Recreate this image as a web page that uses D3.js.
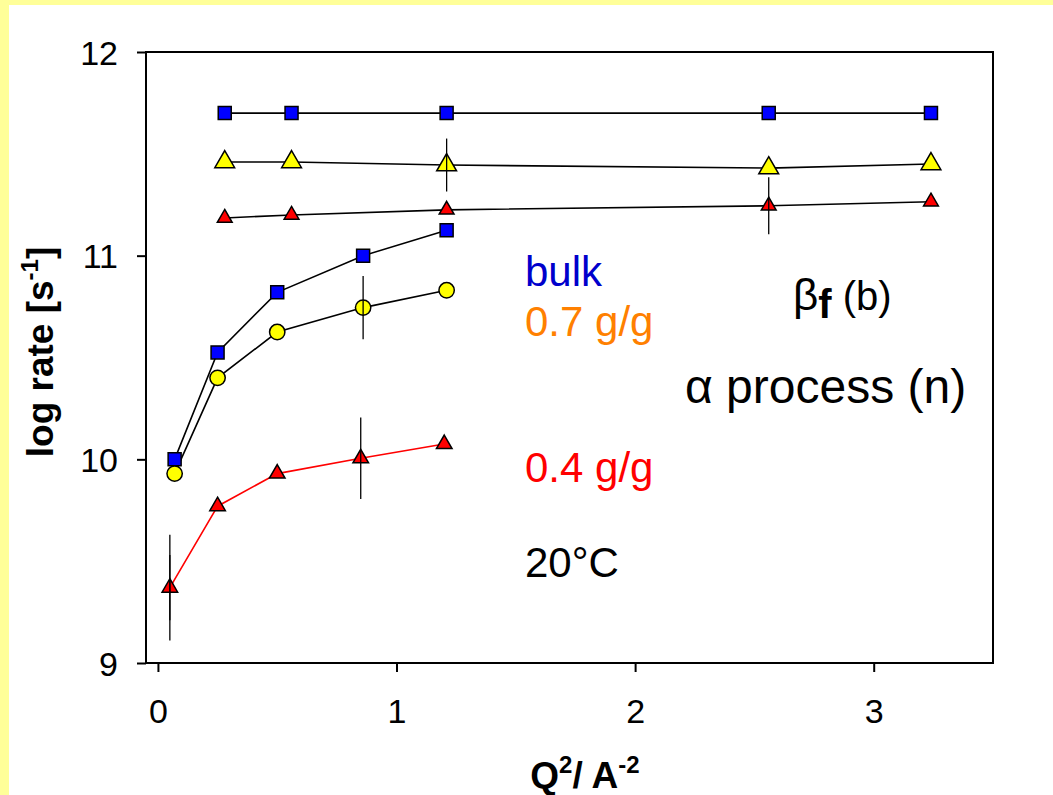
<!DOCTYPE html>
<html>
<head>
<meta charset="utf-8">
<script src="https://cdn.jsdelivr.net/npm/d3@7"></script>
<style>
    body { margin: 0; background: #FFFF99; }
    svg { display: block; font-family: Arial, "Liberation Sans", sans-serif; }
</style>
</head>
<body>
<div id="chart"></div>
<script>
// Q^2 values (A^-2)
const qHigh = [0.28, 0.56, 1.21, 2.56, 3.24];
const qLow = [0.07, 0.25, 0.5, 0.86, 1.21];
const qLow04 = [0.05, 0.25, 0.5, 0.85, 1.2];

// beta_f (b) rates
const bulkBeta = [11.70, 11.70, 11.70, 11.70, 11.70];
const g07Beta = [11.46, 11.46, 11.445, 11.43, 11.45];
const g04Beta = [11.185, 11.20, 11.225, 11.245, 11.265];

// alpha process (n) rates
const bulkAlpha = [10.0, 10.525, 10.82, 11.0, 11.125];
const g07Alpha = [9.93, 10.40, 10.625, 10.745, 10.83];
const g04Alpha = [9.37, 9.77, 9.93, 10.005, 10.075];

// error bar half widths (null = none)
const g07BetaErr = [null, null, 0.13, null, null];
const g04BetaErr = [null, null, null, 0.14, null];
const g07AlphaErr = [null, null, null, 0.155, null];
const g04AlphaErr = [0.26, null, null, 0.2, null];
const g04AlphaErr2 = [0.16, null, null, null, null];

const xTicks = [0, 1, 2, 3];
const yTicks = [9, 10, 11, 12];

const width = 1053;
const height = 795;
const plot = { left: 146, right: 993, top: 52, bottom: 663 };

const x = d3.scaleLinear().domain([-0.05, 3.5]).range([plot.left, plot.right]);
const y = d3.scaleLinear().domain([9, 12]).range([plot.bottom, plot.top]);

function makeSeries(xs, ys, errs) {
    return xs.map((q, i) => ({ q, v: ys[i], err: errs ? errs[i] : null }));
}

const series = [
    { data: makeSeries(qHigh, bulkBeta), shape: d3.symbolSquare, size: 169, fill: '#0000FF', line: '#000' },
    { data: makeSeries(qHigh, g07Beta, g07BetaErr), shape: d3.symbolTriangle, size: 170, fill: '#FFFF00', line: '#000' },
    { data: makeSeries(qHigh, g04Beta, g04BetaErr), shape: d3.symbolTriangle, size: 95, fill: '#FF0000', line: '#000' },
    { data: makeSeries(qLow, bulkAlpha), shape: d3.symbolSquare, size: 169, fill: '#0000FF', line: '#000' },
    { data: makeSeries(qLow, g07Alpha, g07AlphaErr), shape: d3.symbolCircle, size: 185, fill: '#FFFF00', line: '#000' },
    { data: makeSeries(qLow04, g04Alpha, g04AlphaErr), shape: d3.symbolTriangle, size: 105, fill: '#FF0000', line: '#FF0000' },
    { data: makeSeries(qLow04, g04Alpha, g04AlphaErr2), shape: null }
];

const svg = d3.select('#chart')
    .append('svg')
    .attr('width', width)
    .attr('height', height);

svg.append('rect')
    .attr('width', width)
    .attr('height', height)
    .attr('fill', '#FFFF99');

svg.append('rect')
    .attr('x', 9)
    .attr('y', 5)
    .attr('width', width - 9)
    .attr('height', height - 5)
    .attr('fill', '#FFFFFF');

// axes
const yAxis = svg.append('g')
    .attr('transform', `translate(${plot.left},0)`)
    .call(d3.axisLeft(y).tickValues(yTicks).tickFormat(d3.format('d'))
        .tickSize(9).tickPadding(19).tickSizeOuter(0));

const xAxis = svg.append('g')
    .attr('transform', `translate(0,${plot.bottom})`)
    .call(d3.axisBottom(x).tickValues(xTicks).tickFormat(d3.format('d'))
        .tickSize(9).tickPadding(0).tickSizeOuter(0));

[yAxis, xAxis].forEach(ax => {
    ax.select('.domain').remove();
    ax.selectAll('line').attr('stroke', '#000').attr('stroke-width', 2);
    ax.selectAll('text')
        .attr('fill', '#000')
        .attr('font-size', 34)
        .attr('font-family', 'Arial, "Liberation Sans", sans-serif');
});
yAxis.selectAll('text').attr('dy', '0.36em');
xAxis.selectAll('text').attr('y', 60).attr('dy', 0);

// frame
svg.append('rect')
    .attr('x', plot.left)
    .attr('y', plot.top)
    .attr('width', plot.right - plot.left)
    .attr('height', plot.bottom - plot.top)
    .attr('fill', 'none')
    .attr('stroke', '#000')
    .attr('stroke-width', 2);

const line = d3.line().x(d => x(d.q)).y(d => y(d.v));

const lines = svg.append('g');
const marks = svg.append('g');
const bars = svg.append('g');

series.forEach(s => {
    if (s.shape) {
        lines.append('path')
            .datum(s.data)
            .attr('d', line)
            .attr('fill', 'none')
            .attr('stroke', s.line)
            .attr('stroke-width', 1.6);

        marks.selectAll(null)
            .data(s.data)
            .enter().append('path')
            .attr('transform', d => `translate(${x(d.q)},${y(d.v)})`)
            .attr('d', d3.symbol().type(s.shape).size(s.size))
            .attr('fill', s.fill)
            .attr('stroke', '#000')
            .attr('stroke-width', 1.5);
    }

    bars.selectAll(null)
        .data(s.data.filter(d => d.err != null))
        .enter().append('line')
        .attr('x1', d => x(d.q))
        .attr('x2', d => x(d.q))
        .attr('y1', d => y(d.v + d.err))
        .attr('y2', d => y(d.v - d.err))
        .attr('stroke', '#000')
        .attr('stroke-width', 1.3);
});

// axis titles
svg.append('text')
    .attr('transform', `translate(53,352) rotate(-90)`)
    .attr('text-anchor', 'middle')
    .attr('font-size', 37)
    .attr('font-weight', 'bold')
    .call(t => {
        t.append('tspan').text('log rate [s');
        t.append('tspan').attr('font-size', 24).attr('dy', -15).text('-1');
        t.append('tspan').attr('dy', 15).text(']');
    });

svg.append('text')
    .attr('x', 585)
    .attr('y', 788)
    .attr('text-anchor', 'middle')
    .attr('font-size', 37)
    .attr('font-weight', 'bold')
    .call(t => {
        t.append('tspan').text('Q');
        t.append('tspan').attr('font-size', 24).attr('dy', -15).text('2');
        t.append('tspan').attr('dy', 15).text('/ A');
        t.append('tspan').attr('font-size', 24).attr('dy', -15).text('-2');
    });

// annotations
const notes = [
    { text: 'bulk', x: 525, y: 286, color: '#0000CC', size: 42 },
    { text: '0.7 g/g', x: 525, y: 336, color: '#FF8000', size: 42 },
    { text: '0.4 g/g', x: 525, y: 482, color: '#FF0000', size: 42 },
    { text: '20°C', x: 525, y: 577, color: '#000000', size: 42 },
    { text: 'α process (n)', x: 685, y: 403, color: '#000000', size: 48 }
];

svg.append('g')
    .selectAll('text')
    .data(notes)
    .enter().append('text')
    .attr('x', d => d.x)
    .attr('y', d => d.y)
    .attr('fill', d => d.color)
    .attr('font-size', d => d.size)
    .text(d => d.text);

svg.append('text')
    .attr('x', 793)
    .attr('y', 310)
    .attr('font-size', 44)
    .call(t => {
        t.append('tspan').text('β');
        t.append('tspan').attr('dy', 8).attr('font-size', 40).attr('font-weight', 'bold').text('f');
        t.append('tspan').attr('dy', -8).attr('font-size', 40).text(' (b)');
    });
</script>
</body>
</html>
